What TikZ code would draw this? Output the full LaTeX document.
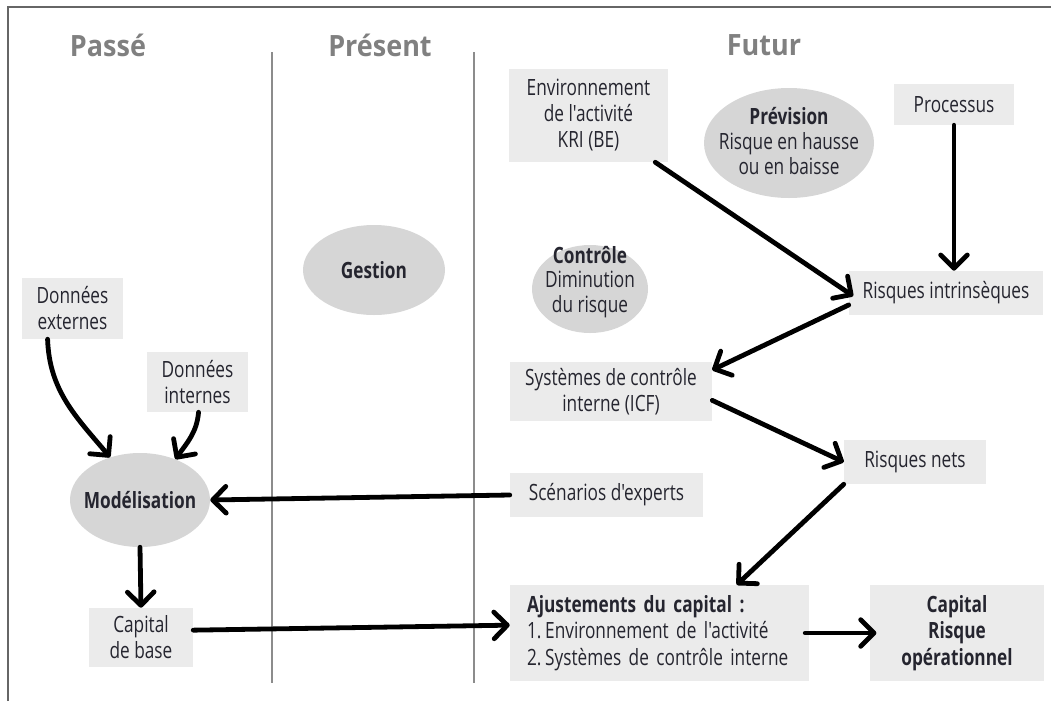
\documentclass[tikz,border=0pt]{standalone}
\usepackage{fontspec}
\setmainfont{Open Sans}[FakeStretch=0.77,Ligatures=TeXOff]
\newfontfamily\hdrfont{Open Sans}[FakeStretch=0.92,Ligatures=TeXOff]
\usetikzlibrary{arrows.meta,shapes.geometric}
\definecolor{txt}{HTML}{25252F}
\definecolor{boxfill}{HTML}{EBEBEB}
\definecolor{ellfill}{HTML}{D6D6D6}
\definecolor{hdr}{HTML}{808080}
\definecolor{framecol}{HTML}{666666}
\definecolor{divcol}{HTML}{8C8C8C}
\begin{document}
\begin{tikzpicture}[x=0.75pt,y=-0.75pt,
  every node/.style={text=txt, font=\fontsize{16.8}{19.5}\selectfont},
  box/.style={fill=boxfill, draw=none, align=center, inner sep=0pt},
  ell/.style={ellipse, fill=ellfill, draw=none, inner sep=0pt},
  lbl/.style={align=center, inner sep=0pt},
  hdrtxt/.style={text=hdr, font=\hdrfont\bfseries\fontsize{22}{26}\selectfont},
  arr/.style={-{Straight Barb[length=10pt,width=20pt,round]}, line width=3.6pt, line cap=round, black}]
\useasboundingbox (0,0) rectangle (1051,701);
% frame and dividers
\draw[framecol, line width=1.5pt] (8,701) -- (8,7) -- (1051,7);
\draw[divcol, line width=0.8pt] (272,52) -- (272,683);
\draw[divcol, line width=0.8pt] (474,52) -- (474,683);
% headers
\node[hdrtxt] (hpasse) at (108,45) {Passé};
\node[hdrtxt] (hpresent) at (380,45) {Présent};
\node[hdrtxt] (hfutur) at (764,45) {Futur};
% boxes
\node[box, minimum width=119.25pt, minimum height=69.75pt] (env) at (588.5,115.5) {Environnement\\de l'activité\\KRI (BE)};
\node[box, minimum width=90pt, minimum height=30.75pt] (proc) at (954,104.5) {Processus};
\node[box, minimum width=145.5pt, minimum height=33pt] (ri) at (946,293) {Risques intrinsèques};
\node[box, minimum width=75.75pt, minimum height=45.75pt] (de) at (72.5,308.5) {Données\\externes};
\node[box, minimum width=75.75pt, minimum height=45pt] (di) at (197.5,382) {Données\\internes};
\node[box, minimum width=78pt, minimum height=44.25pt] (cb) at (141,637.5) {Capital\\de base};
\node[box, minimum width=151.5pt, minimum height=44.25pt] (icf) at (611,391.5) {Systèmes de contrôle\\interne (ICF)};
\node[box, minimum width=106.5pt, minimum height=33pt] (rn) at (915,462) {Risques nets};
\node[box, minimum width=144.75pt, minimum height=33pt] (scen) at (606.5,495) {Scénarios d'experts};
\node[box, minimum height=72pt, text width=198.75pt, inner xsep=12.75pt, align=left, font=\fontsize{16.8}{20}\selectfont] (aj) at (659.5,633) {\textbf{Ajustements du capital :}\\1.\,Environnement de l'activité\\2.\,Systèmes de contrôle interne};
\node[box, minimum width=130.5pt, minimum height=72pt, font=\bfseries\fontsize{16.8}{20}\selectfont] (cr) at (957,633) {Capital\\Risque\\opérationnel};
% ellipses
\node[ell, minimum width=127.5pt, minimum height=82.5pt] (prev) at (789,143) {};
\node[lbl] (prevtxt) at (789,141) {\textbf{Prévision}\\[-1pt]Risque en hausse\\[-1pt]ou en baisse};
\node[ell, minimum width=106.5pt, minimum height=67.5pt] (gest) at (374,270) {};
\node[lbl] (gesttxt) at (gest) {\textbf{Gestion}};
\node[ell, minimum width=87pt, minimum height=66pt] (ctrl) at (590,289) {};
\node[lbl] (ctrltxt) at (590,282) {\textbf{Contrôle}\\[-1pt]Diminution\\[-1pt]du risque};
\node[ell, minimum width=105pt, minimum height=70.5pt] (mod) at (140,500) {};
\node[lbl] (modtxt) at (mod) {\textbf{Modélisation}};
% connectors
\draw[arr, shorten >=-4pt] (env.-35) -- (ri.west);
\draw[arr] (proc.south) -- (proc.south |- ri.north);
\draw[arr] (ri.187) -- (icf.12);
\draw[arr] (icf.-5) -- (rn.west);
\draw[arr] (rn.south west) -- (aj.32);
\draw[arr] (scen.west) -- (mod.east);
\draw[arr] (de.-129) to[out=-88,in=130] (mod.125);
\draw[arr] (di.-88) to[out=-95,in=55] (mod.49);
\draw[arr] (mod.south) -- (cb.north);
\draw[arr] (cb.8) -- (aj.177);
\draw[arr, shorten <=-3pt, shorten >=-5pt] (aj.east) -- (cr.west);
\end{tikzpicture}
\end{document}
